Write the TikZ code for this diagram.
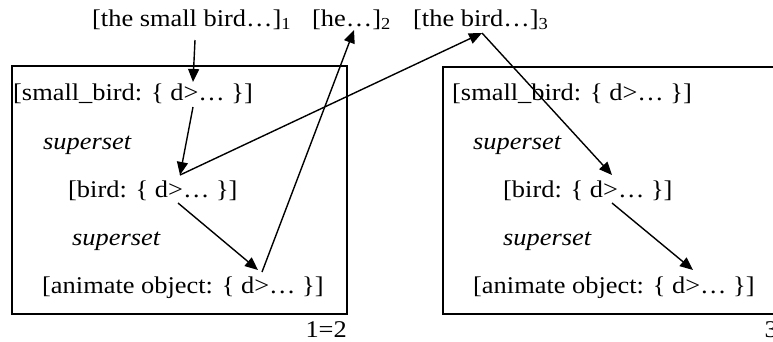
\documentclass[tikz,border=0pt]{standalone}
\usepackage{fontspec}
\setmainfont[FakeStretch=1.1]{Liberation Serif}
\usetikzlibrary{arrows.meta}
\begin{document}
\begin{tikzpicture}[x=1pt,y=-1pt,
  txt/.style={anchor=base west,inner sep=0pt,font=\fontsize{24}{28}\selectfont},
  sup/.style={txt,font=\fontsize{24}{28}\selectfont\itshape},
  lbl/.style={anchor=base east,inner sep=0pt,font=\fontsize{24}{28}\selectfont},
  boxf/.style={draw,line width=1.8pt},
  arr/.style={line width=1.4pt,-{Triangle[length=13pt,width=11pt]}}]
\useasboundingbox (0,0) rectangle (773,341);
\clip (0,0) rectangle (773,341);
% top labels
\node[txt] (t1) at (92,26) {[the small bird…]\textsubscript{1}};
\node[txt] (t2) at (312,26) {[he…]\textsubscript{2}};
\node[txt] (t3) at (413,26) {[the bird…]\textsubscript{3}};
% boxes
\draw[boxf] (12,66) rectangle (347,314);
\draw[boxf] (443,67) rectangle (778,314);
\node[lbl] (n12) at (347,337) {1=2};
\node[lbl] (n3) at (778,337) {3};
% left box
\node[txt] (L1) at (13,100) {[small\_bird: \{ d>… \}]};
\node[sup] (L2) at (43,149) {superset};
\node[txt] (L3) at (68,197) {[bird: \{ d>… \}]};
\node[sup] (L4) at (72,245) {superset};
\node[txt] (L5) at (42,293) {[animate object: \{ d>… \}]};
% right box
\node[txt] (R1) at (452,100) {[small\_bird: \{ d>… \}]};
\node[sup] (R2) at (473,149) {superset};
\node[txt] (R3) at (503,197) {[bird: \{ d>… \}]};
\node[sup] (R4) at (503,245) {superset};
\node[txt] (R5) at (473,293) {[animate object: \{ d>… \}]};
% arrow end points
\coordinate (p1) at (195,40);
\coordinate (p2) at (193,82);
\coordinate (p3) at (193,107);
\coordinate (p4) at (180,175);
\coordinate (p5) at (482,33);
\coordinate (p6) at (612,175);
\coordinate (p7) at (612,203);
\coordinate (p8) at (693,270);
\coordinate (p9) at (178,203);
\coordinate (p10) at (258,270);
\coordinate (p11) at (262,272);
\coordinate (p12) at (354,30);
\draw[arr] (p1) -- (p2);
\draw[arr] (p3) -- (p4);
\draw[arr] (p4) -- (p5);
\draw[arr] (p5) -- (p6);
\draw[arr] (p7) -- (p8);
\draw[arr] (p9) -- (p10);
\draw[arr] (p11) -- (p12);
\end{tikzpicture}
\end{document}
